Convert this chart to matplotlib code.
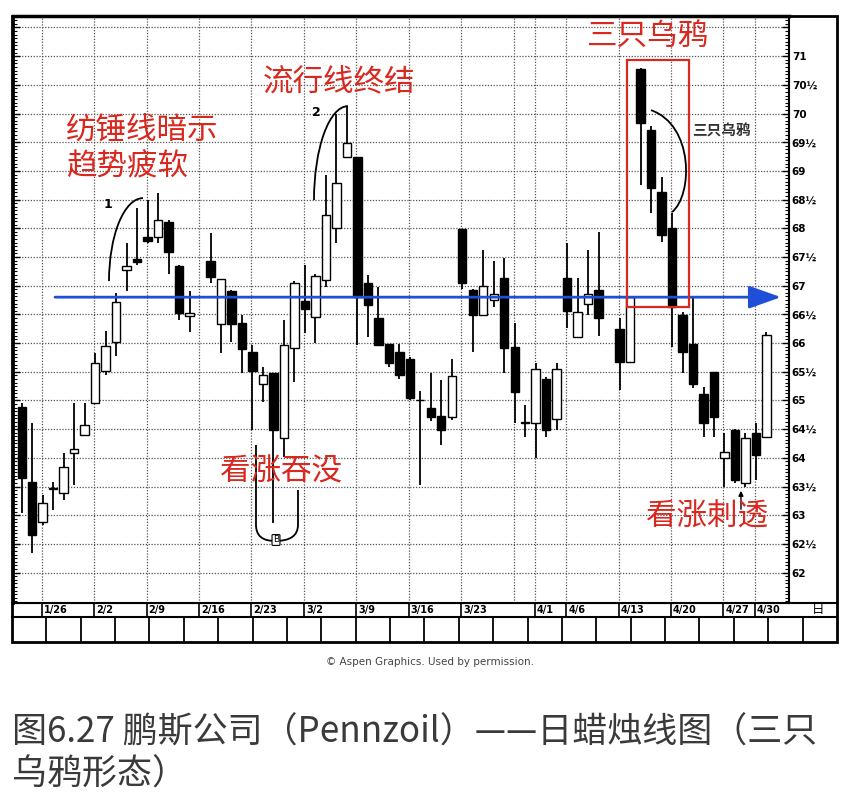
import numpy as np
import matplotlib
matplotlib.use("Agg")
import matplotlib.pyplot as plt
from matplotlib.patches import Arc, Rectangle, PathPatch
from matplotlib.path import Path

plt.rcParams['font.family'] = ['Noto Sans CJK SC', 'DejaVu Sans']

# ---------------- data ----------------
dates = ["1998-01-22", "1998-01-23", "1998-01-26", "1998-01-27", "1998-01-28", "1998-01-29", "1998-01-30",
         "1998-02-02", "1998-02-03", "1998-02-04", "1998-02-05", "1998-02-06",
         "1998-02-09", "1998-02-10", "1998-02-11", "1998-02-12", "1998-02-13",
         "1998-02-17", "1998-02-18", "1998-02-19", "1998-02-20",
         "1998-02-23", "1998-02-24", "1998-02-25", "1998-02-26", "1998-02-27",
         "1998-03-02", "1998-03-03", "1998-03-04", "1998-03-05", "1998-03-06",
         "1998-03-09", "1998-03-10", "1998-03-11", "1998-03-12", "1998-03-13",
         "1998-03-16", "1998-03-17", "1998-03-18", "1998-03-19", "1998-03-20",
         "1998-03-23", "1998-03-24", "1998-03-25", "1998-03-26", "1998-03-27",
         "1998-03-30", "1998-03-31", "1998-04-01", "1998-04-02", "1998-04-03",
         "1998-04-06", "1998-04-07", "1998-04-08", "1998-04-09",
         "1998-04-13", "1998-04-14", "1998-04-15", "1998-04-16", "1998-04-17",
         "1998-04-20", "1998-04-21", "1998-04-22", "1998-04-23", "1998-04-24",
         "1998-04-27", "1998-04-28", "1998-04-29", "1998-04-30", "1998-05-01"]

opens = [64.89, 63.58, 62.89, 63.46, 63.39, 64.08, 64.39,
         64.96, 65.51, 66.02, 67.28, 67.46,
         67.85, 67.85, 68.11, 67.34, 66.47,
         67.43, 66.34, 66.91, 66.35,
         65.85, 65.29, 65.47, 64.34, 65.91,
         66.74, 66.46, 67.10, 68.00, 69.25,
         69.25, 67.05, 66.43, 65.99, 65.85,
         65.73, 65.00, 64.86, 64.73, 64.72,
         67.98, 66.92, 66.49, 66.75, 67.13,
         65.94, 64.61, 64.61, 65.37, 64.67,
         67.13, 66.11, 66.68, 66.92,
         66.24, 65.67, 70.77, 69.71, 68.64,
         68.00, 66.49, 65.99, 65.12, 65.50,
         63.99, 64.48, 63.56, 64.43, 64.37]
highs = [64.95, 64.60, 63.35, 63.58, 64.08, 64.95, 64.95,
         65.83, 66.21, 66.87, 67.74, 68.35,
         68.49, 68.62, 68.15, 67.36, 66.91,
         67.91, 67.11, 66.93, 66.49,
         65.96, 65.58, 65.47, 66.40, 67.08,
         67.36, 67.20, 68.93, 70.00, 70.12,
         69.25, 67.18, 66.98, 65.99, 65.98,
         65.76, 65.17, 65.47, 65.36, 65.73,
         67.99, 66.95, 67.62, 67.43, 67.49,
         66.35, 64.92, 65.66, 65.40, 65.66,
         67.75, 67.13, 67.63, 67.94,
         66.43, 66.80, 70.80, 69.78, 68.89,
         68.26, 66.55, 66.78, 65.24, 65.50,
         64.43, 64.51, 64.43, 64.60, 66.20]
lows = [63.03, 62.34, 62.83, 63.09, 63.26, 63.53, 64.39,
        64.96, 65.45, 65.78, 66.90, 67.36,
        67.74, 67.74, 67.21, 66.40, 66.20,
        67.04, 65.82, 66.02, 65.47,
        64.48, 64.98, 62.86, 64.02, 65.33,
        66.17, 66.00, 66.98, 67.74, 69.25,
        65.96, 66.11, 65.96, 65.59, 65.38,
        65.00, 63.53, 64.65, 64.22, 64.66,
        66.95, 65.85, 66.49, 66.62, 65.47,
        64.61, 64.36, 63.99, 64.36, 64.48,
        66.26, 66.11, 66.49, 66.12,
        65.18, 65.67, 68.75, 68.26, 67.77,
        65.94, 65.47, 65.22, 64.37, 64.37,
        63.50, 63.56, 63.50, 63.61, 64.37]
closes = [63.65, 62.65, 63.21, 63.46, 63.84, 64.15, 64.58,
          65.65, 65.95, 66.71, 67.34, 67.42,
          67.78, 68.15, 67.59, 66.53, 66.53,
          67.16, 67.11, 66.34, 65.89,
          65.52, 65.44, 64.48, 65.96, 67.04,
          66.60, 67.17, 68.24, 68.79, 69.48,
          66.80, 66.66, 65.96, 65.65, 65.44,
          65.04, 65.00, 64.72, 64.48, 65.43,
          67.05, 66.49, 66.99, 66.85, 65.92,
          65.15, 64.61, 65.54, 64.48, 65.54,
          66.56, 66.55, 66.85, 66.43,
          65.67, 66.80, 69.83, 68.70, 67.88,
          66.63, 65.85, 65.29, 64.61, 64.72,
          64.10, 63.61, 64.34, 64.05, 66.14]

date_labels = ["1/26", "2/2", "2/9", "2/16", "2/23", "3/2", "3/9", "3/16", "3/23",
               "4/1", "4/6", "4/13", "4/20", "4/27", "4/30"]
label_dates = ["1998-01-26", "1998-02-02", "1998-02-09", "1998-02-16", "1998-02-23",
               "1998-03-02", "1998-03-09", "1998-03-16", "1998-03-23", "1998-04-01",
               "1998-04-06", "1998-04-13", "1998-04-20", "1998-04-27", "1998-04-30"]
grid_dates = label_dates[:9] + ["1998-03-30"] + label_dates[9:]

support_level = 66.8

start = "1998-01-22"
xpos = np.busday_count(start, dates).astype(float)
lab_x = np.busday_count(start, label_dates).astype(float)
grid_x = np.busday_count(start, grid_dates).astype(float)
opens, highs, lows, closes = map(np.array, (opens, highs, lows, closes))

RED = '#d9281f'
BLUE = '#1f4fd6'

# ---------------- figure ----------------
W, H = 850, 808
fig = plt.figure(figsize=(W / 100, H / 100), dpi=100)
fa = fig.add_axes([0, 0, 1, 1], zorder=0)
fa.set_xlim(0, W); fa.set_ylim(H, 0); fa.axis('off')

L, R, T, B = 13, 789, 16, 603
ax = fig.add_axes([L / W, 1 - B / H, (R - L) / W, (B - T) / H], zorder=1)
ax.set_xlim(-0.83, 73.15)
ax.set_ylim(61.47, 71.70)

# grid
maj = np.arange(62, 71.51, 0.5)
for v in maj:
    ax.axhline(v, color='#555', lw=0.9, ls=(0, (1, 1.3)), zorder=1)
for gx in grid_x:
    ax.axvline(gx - 0.1, color='#555', lw=0.9, ls=(0, (1, 1.3)), zorder=1)

# candles
up = closes >= opens
bot = np.minimum(opens, closes)
hgt = np.maximum(np.abs(closes - opens), 0.015)
ax.vlines(xpos, lows, highs, color='black', lw=1.3, zorder=3)
ax.bar(xpos, hgt, bottom=bot, width=0.8,
       color=np.where(up, 'white', 'black'), edgecolor='black', linewidth=1.0, zorder=4)

# axis formatting
ax.set_xticks([])
ax.set_yticks(maj)
ax.set_yticks(np.arange(61.5, 71.7, 1 / 16), minor=True)
ax.set_yticklabels(["" if v > 71 else (f"{int(v)}" if v == int(v) else f"{int(v)}½") for v in maj],
                   fontsize=7.5, fontweight='bold', family='DejaVu Sans')
ax.tick_params(axis='y', which='both', direction='in', left=True, right=True,
               labelleft=False, labelright=True, pad=2)
ax.tick_params(axis='y', which='major', length=5, width=1)
ax.tick_params(axis='y', which='minor', length=3, width=0.8)
for s in ax.spines.values():
    s.set_linewidth(1.5)
ax.spines['top'].set_linewidth(2.5)
ax.spines['left'].set_linewidth(2.0)

# date row
xt = ax.get_xaxis_transform()
row_h = 14 / (B - T)
ax.vlines(lab_x - 0.1, -row_h, 0, transform=xt, color='black', lw=1.2, clip_on=False)
for lx, lab in zip(lab_x, date_labels):
    ax.text(lx + 0.1, -row_h / 2, lab, transform=xt, ha='left', va='center',
            fontsize=7, fontweight='bold', family='DejaVu Sans', clip_on=False)

# frame decorations (figure pixel coords)
fa.add_patch(Rectangle((12, 16), 825, 626, fill=False, lw=2, ec='black'))
fa.plot([12, 837], [B, B], color='black', lw=1.5)
fa.plot([12, 837], [617, 617], color='black', lw=1.5)
for bx in np.linspace(12, 837, 25)[1:-1]:
    fa.plot([bx, bx], [617, 642], color='black', lw=1.3)
fa.text(818, 609, '日', fontsize=9, ha='center', va='center')
fa.text(430, 662, '© Aspen Graphics. Used by permission.', fontsize=7.5, ha='center',
        va='center', color='#444', family='DejaVu Sans')
fa.text(12, 733, '图6.27 鹏斯公司（Pennzoil）——日蜡烛线图（三只', fontsize=25.2,
        ha='left', va='center', color='#3a3a3a')
fa.text(12, 775, '乌鸦形态）', fontsize=25.2, ha='left', va='center', color='#3a3a3a')

# ---------------- annotations ----------------
def X(px):
    return (px - 21.7) / 10.49

def Y(py):
    return 71 - (py - 56) / 57.4

# support arrow
ax.annotate('', xy=(X(781), support_level), xytext=(X(55), support_level),
            arrowprops=dict(arrowstyle='-|>,head_length=0.9,head_width=0.32', color=BLUE,
                            lw=2, mutation_scale=22, shrinkA=0, shrinkB=0), zorder=6)

# three crows box
ax.add_patch(Rectangle((X(627), Y(307)), X(689) - X(627), Y(60) - Y(307),
                       fill=False, ec=RED, lw=1.6, zorder=6))

# arcs
ax.add_patch(Arc((X(143), Y(281)), 2 * 34 / 10.49, 2 * 83 / 57.4, theta1=90, theta2=180,
                 lw=1.3, color='black', zorder=5))
ax.text(X(108), Y(204), '1', fontsize=9, fontweight='bold', ha='center', va='center',
        family='DejaVu Sans', zorder=6)
ax.add_patch(Arc((X(348), Y(200)), 2 * 34 / 10.49, 2 * 94 / 57.4, theta1=90, theta2=180,
                 lw=1.3, color='black', zorder=5))
ax.text(X(316), Y(112), '2', fontsize=9, fontweight='bold', ha='center', va='center',
        family='DejaVu Sans', zorder=6)

crow = Path([(X(651), Y(110)), (X(694), Y(125)), (X(693), Y(195)), (X(672), Y(212))],
            [Path.MOVETO, Path.CURVE4, Path.CURVE4, Path.CURVE4])
ax.add_patch(PathPatch(crow, fill=False, lw=1.3, ec='black', zorder=5))
ax.text(X(692), Y(130), '三只乌鸦', fontsize=10.5, fontweight='bold', color='#333',
        ha='left', va='center', zorder=6)

upath = Path([(X(256), Y(445)), (X(256), Y(525)), (X(256), Y(541)), (X(275), Y(541)),
              (X(298), Y(541)), (X(298), Y(525)), (X(298), Y(490))],
             [Path.MOVETO, Path.LINETO, Path.CURVE3, Path.CURVE3, Path.CURVE3, Path.CURVE3,
              Path.LINETO])
ax.add_patch(PathPatch(upath, fill=False, lw=1.3, ec='black', zorder=5))
ax.text(X(276), Y(540), 'B', fontsize=6.5, ha='center', va='center', family='DejaVu Sans',
        bbox=dict(boxstyle='round,pad=0.1', fc='white', ec='black', lw=0.8), zorder=6)

ax.annotate('', xy=(X(741), Y(488)), xytext=(X(741), Y(512)),
            arrowprops=dict(arrowstyle='-|>', color='black', lw=1, mutation_scale=7), zorder=6)

# red captions
red_kw = dict(fontsize=22, color=RED, ha='left', va='center', zorder=7)
ax.text(X(66), Y(130), '纺锤线暗示', **red_kw)
ax.text(X(66), Y(166), '趋势疲软', **red_kw)
ax.text(X(263), Y(82), '流行线终结', **red_kw)
ax.text(X(586), Y(37), '三只乌鸦', **red_kw)
ax.text(X(220), Y(472), '看涨吞没', **red_kw)
ax.text(X(646), Y(517), '看涨刺透', **red_kw)

fig.savefig('out.png', dpi=100)
